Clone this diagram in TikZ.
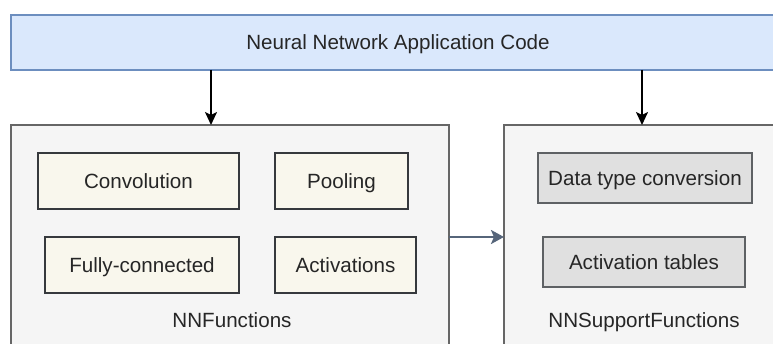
\documentclass[tikz,border=0pt]{standalone}
\usepackage{fontspec}
\setmainfont{Liberation Sans}
\usetikzlibrary{arrows.meta}
\definecolor{barfill}{HTML}{DAE8FC}
\definecolor{barline}{HTML}{6C8EBF}
\definecolor{grpfill}{HTML}{F5F5F5}
\definecolor{grpline}{HTML}{666666}
\definecolor{fnfill}{HTML}{F9F7ED}
\definecolor{fnline}{HTML}{36393D}
\definecolor{supfill}{HTML}{E0E0E0}
\definecolor{slate}{HTML}{56657A}
\tikzset{
  txt/.style={font=\fontsize{20.6}{24}\selectfont, text=black!85, text height=14.7pt, text depth=0pt},
  bar/.style={draw=barline, fill=barfill, line width=1.5pt},
  grp/.style={draw=grpline, fill=grpfill, line width=1.5pt},
  fnbox/.style={draw=fnline, fill=fnfill, line width=1.5pt},
  supbox/.style={draw=fnline!80, fill=supfill, line width=1.5pt},
  down/.style={-{Stealth[length=13pt,width=12pt,inset=3pt]}, line width=2.2pt, black},
  link/.style={-{Stealth[length=13pt,width=14pt,inset=3pt]}, line width=2.8pt, slate},
}
\begin{document}
\begin{tikzpicture}[x=1pt,y=-1pt]
\useasboundingbox (0,0) rectangle (773,344);
\begin{scope}
\clip (0,0) rectangle (773,344);
% top bar
\draw[bar] (11,15) rectangle (790,70);
\node[txt] (app) at (398,42.5) {Neural Network Application Code};
% groups
\draw[grp] (11,125) rectangle (449,360);
\draw[grp] (504,125) rectangle (790,360);
\coordinate (lefttop) at (211,125);
\coordinate (righttop) at (642,125);
\coordinate (appl) at (211,70);
\coordinate (appr) at (642,70);
\coordinate (lgr) at (449,237);
\coordinate (rgl) at (504,237);
% left inner boxes
\draw[fnbox] (38,153) rectangle (239,209);
\node[txt] (conv) at (138.5,181) {Convolution};
\draw[fnbox] (275,153) rectangle (408,209);
\node[txt] (pool) at (341.5,181) {Pooling};
\draw[fnbox] (45,237) rectangle (239,293);
\node[txt] (fc) at (142,265) {Fully-connected};
\draw[fnbox] (275,237) rectangle (416,293);
\node[txt] (act) at (345.5,265) {Activations};
\node[txt] (nnf) at (232,320) {NNFunctions};
% right inner boxes
\draw[supbox] (538,153) rectangle (752,203);
\node[txt] (dtc) at (645,178) {Data type conversion};
\draw[supbox] (543,237) rectangle (745,287);
\node[txt] (at) at (644,262) {Activation tables};
\node[txt] (nns) at (644,320) {NNSupportFunctions};
% arrows
\draw[down] (appl) -- (lefttop);
\draw[down] (appr) -- (righttop);
\draw[link] (lgr) -- (rgl);
\end{scope}
\end{tikzpicture}
\end{document}
